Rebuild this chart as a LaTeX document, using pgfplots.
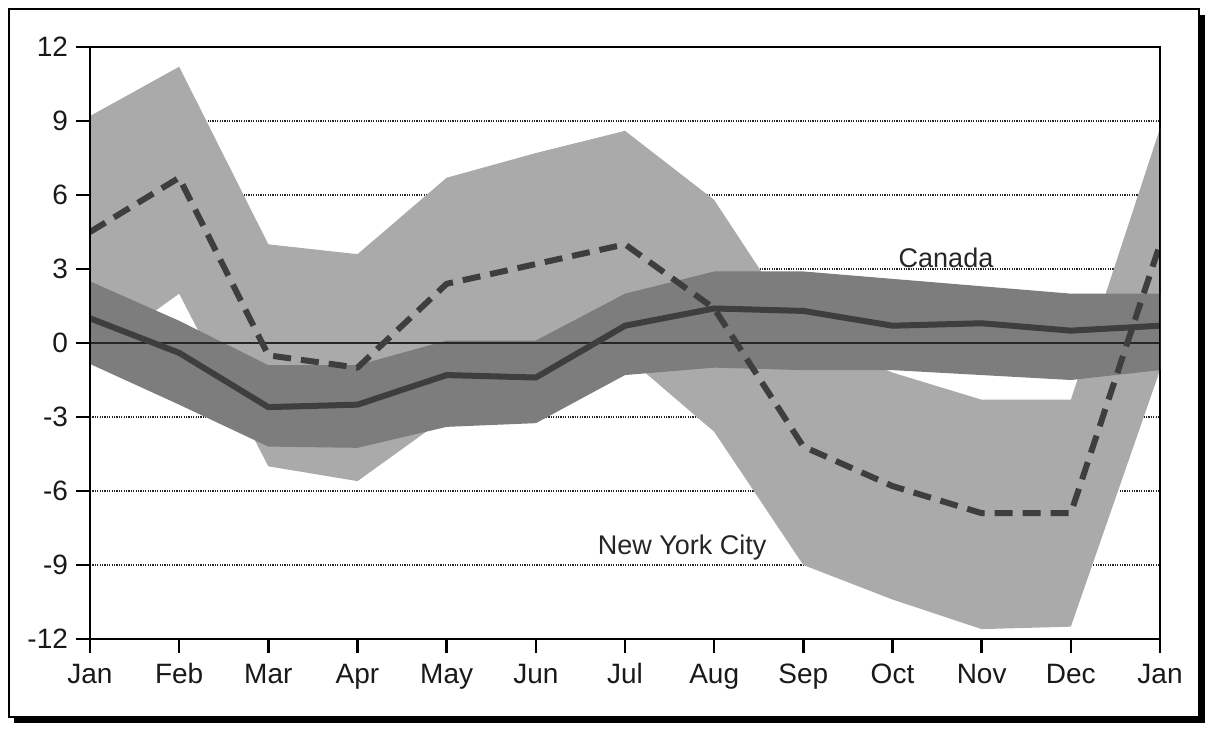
\documentclass[border=0pt]{standalone}
\usepackage{fontspec}
\setmainfont{Liberation Sans}
\usepackage{pgfplots}
\usepackage{pgfplotstable}
\pgfplotsset{compat=1.18}
\usepgfplotslibrary{fillbetween}

\definecolor{nycfill}{RGB}{170,170,170}
\definecolor{canfill}{RGB}{125,125,125}
\definecolor{linec}{RGB}{62,62,62}

% month  mean  upper  lower
\pgfplotstableread{
m mean up lo
0 4.5 9.2 -0.6
1 6.7 11.2 2.0
2 -0.5 4.0 -5.0
3 -1.0 3.6 -5.6
4 2.4 6.7 -3.0
5 3.2 7.7 -2.5
6 4.0 8.6 -0.5
7 1.4 5.8 -3.6
8 -4.2 0.3 -9.0
9 -5.8 -1.2 -10.4
10 -6.9 -2.3 -11.6
11 -6.9 -2.3 -11.5
12 4.0 8.7 -1.1
}\nyc

\pgfplotstableread{
m mean up lo
0 1.0 2.5 -0.85
1 -0.4 0.9 -2.5
2 -2.6 -0.9 -4.2
3 -2.5 -0.9 -4.25
4 -1.3 0.1 -3.4
5 -1.4 0.1 -3.25
6 0.7 2.0 -1.3
7 1.4 2.9 -1.0
8 1.3 2.9 -1.1
9 0.7 2.6 -1.1
10 0.8 2.3 -1.3
11 0.5 2.0 -1.5
12 0.7 2.0 -1.1
}\can

\begin{document}
\begin{tikzpicture}
\begin{axis}[
  scale only axis,
  width=535pt, height=296pt,
  xmin=0, xmax=12, ymin=-12, ymax=12,
  xtick={0,...,12},
  xticklabels={Jan,Feb,Mar,Apr,May,Jun,Jul,Aug,Sep,Oct,Nov,Dec,Jan},
  ytick={-12,-9,...,12},
  yticklabels={-12,-9,-6,-3,0,3,6,9,12},
  tick pos=left,
  tick align=outside,
  major tick length=7pt,
  every tick/.style={black, line width=1.3pt},
  axis line style={line width=1.4pt},
  ymajorgrids,
  major grid style={black!85, line width=0.7pt, dash pattern=on 0.6pt off 0.6pt},
  every tick label/.append style={font=\fontsize{14}{16}\selectfont, text=black!90},
  xticklabel style={yshift=-1.5pt, text height=10pt, text depth=3pt},
  yticklabel style={xshift=-0.5pt},
]
\addplot[name path=nu, draw=none] table[x=m,y=up]{\nyc};
\addplot[name path=nl, draw=none] table[x=m,y=lo]{\nyc};
\addplot[fill=nycfill, draw=none] fill between[of=nu and nl];

\addplot[name path=cu, draw=none] table[x=m,y=up]{\can};
\addplot[name path=cl, draw=none] table[x=m,y=lo]{\can};
\addplot[fill=canfill, draw=none] fill between[of=cu and cl];

\addplot[black!85, line width=1.2pt] coordinates {(0,0) (12,0)};

\addplot[linec, line width=3pt, line join=round] table[x=m,y=mean]{\can};
\addplot[linec, line width=3pt, line join=round, dash pattern=on 9pt off 5pt] table[x=m,y=mean]{\nyc};

\node[font=\fontsize{13.5}{16}\selectfont, text=black!85] at (axis cs:9.6,3.45) {Canada};
\node[font=\fontsize{13.5}{16}\selectfont, text=black!85] at (axis cs:6.64,-8.3) {New York City};

\draw[line width=1.4pt] (rel axis cs:0,0) rectangle (rel axis cs:1,1);
\end{axis}
\draw[line width=1.3pt] (-40.5pt,-39pt) rectangle (554.5pt,315pt);
\draw[line width=3pt] (-38pt,-40.5pt) -- (556pt,-40.5pt) -- (556pt,312pt);
\path[use as bounding box] (-45pt,-46.5pt) rectangle (559.5pt,319.5pt);
\end{tikzpicture}
\end{document}
